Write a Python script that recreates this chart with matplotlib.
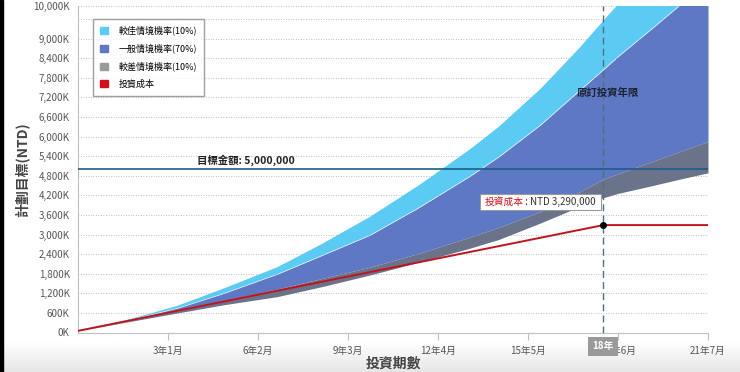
import numpy as np
import matplotlib.pyplot as plt
import matplotlib.patches as mpatches

plt.rcParams['font.family'] = ['Noto Sans CJK TC', 'DejaVu Sans']

# 資料 (單位: 千元, 月)
months = [0, 20, 41, 60, 82, 100, 120, 140, 161, 173, 190, 206, 216, 222, 235, 247, 259]
best_top = [50, 380, 820, 1350, 2000, 2700, 3540, 4500, 5600, 6300, 7450, 8700, 9550, 10050, 11100, 12100, 13100]
normal_top = [50, 360, 750, 1200, 1790, 2350, 2980, 3820, 4780, 5380, 6350, 7400, 8050, 8450, 9250, 10000, 10700]
worse_top = [50, 340, 660, 980, 1330, 1650, 2000, 2420, 2920, 3220, 3700, 4300, 4700, 4860, 5210, 5530, 5850]
worse_bot = [50, 320, 600, 850, 1100, 1400, 1760, 2150, 2580, 2850, 3350, 3850, 4130, 4260, 4480, 4690, 4890]

cost_months = [0, 216, 259]
cost_values = [50, 3290, 3290]

target = 5000
plan_month = 216

xtick_months = [37, 74, 111, 148, 185, 222, 259]
xtick_labels = ['3年1月', '6年2月', '9年3月', '12年4月', '15年5月', '18年6月', '21年7月']
ytick_values = list(range(0, 9601, 600)) + [10000]

legend_labels = ['較佳情境機率(10%)', '一般情境機率(70%)', '較差情境機率(10%)', '投資成本']

c_best = '#5ccbf4'
c_normal = '#5f78c4'
c_worse = '#6a7389'
c_cost = '#c0141c'

fig = plt.figure(figsize=(7.4, 3.72), dpi=100)

# 背景 (底部漸層 + 左側黑邊)
bg = fig.add_axes([0, 0, 1, 1], zorder=-10)
grad = np.ones((372, 1))
grad[340:, 0] = np.linspace(1.0, 0.9, 32)
bg.imshow(grad, cmap='gray', vmin=0, vmax=1, aspect='auto', extent=[0, 740, 372, 0])
bg.add_patch(mpatches.Rectangle((0, 0), 3, 372, color='black'))
bg.set_xlim(0, 740)
bg.set_ylim(372, 0)
bg.axis('off')

ax = fig.add_axes([78 / 740, 1 - 332.5 / 372, 630 / 740, 326.5 / 372])
ax.patch.set_alpha(0)

ax.fill_between(months, worse_top, normal_top, color=c_normal, lw=0, zorder=2)
ax.fill_between(months, normal_top, best_top, color=c_best, lw=0, zorder=2)
ax.fill_between(months, worse_bot, worse_top, color=c_worse, lw=0, zorder=2)

ax.axhline(target, color='#1d5b8c', lw=1.2, zorder=3)
ax.plot(cost_months, cost_values, color=c_cost, lw=1.4, zorder=4)
ax.axvline(plan_month, color='#4f6e80', lw=1.0, ls=(0, (5, 3)), zorder=5)
ax.plot([plan_month], [cost_values[1]], 'o', color='black', ms=4, zorder=6)

ax.set_xlim(0, 259)
ax.set_ylim(0, 10000)

ax.set_yticks(ytick_values)
ax.set_yticklabels(['' if v == 9600 else f'{v:,}K' for v in ytick_values])
ax.set_xticks(xtick_months)
ax.set_xticklabels(xtick_labels)
ax.tick_params(axis='y', length=0, labelsize=7, colors='#555555', pad=6)
ax.tick_params(axis='x', length=5, width=0.8, color='#c0c0c0', labelsize=7, labelcolor='#555555', pad=5)
ax.grid(axis='y', color='#aaaaaa', ls=(0, (1, 2)), lw=0.6, zorder=1)

for s in ['top', 'right']:
    ax.spines[s].set_visible(False)
ax.spines['left'].set_color('#c0c0c0')
ax.spines['bottom'].set_color('#c0c0c0')

ax.set_xlabel('投資期數', fontsize=10, fontweight='bold', color='#444444', labelpad=0)
ax.set_ylabel('計劃目標(NTD)', fontsize=10, fontweight='bold', color='#444444', labelpad=2)

# 文字標註
ax.text(49, target + 160, '目標金額: 5,000,000', fontsize=7.5, fontweight='bold', color='#222222', zorder=7)
ax.text(plan_month + 2, 7330, '原訂投資年限', fontsize=7.5, fontweight='bold', color='#1a2233',
        ha='center', va='center', zorder=7)

ax.annotate('18年', xy=(plan_month, 0), xytext=(0, -10), textcoords='offset points',
            ha='center', va='center', fontsize=7, color='white', fontweight='bold',
            bbox=dict(boxstyle='square,pad=0.45', fc='#9a9a9a', ec='none'),
            annotation_clip=False, zorder=10)

handles = [mpatches.Patch(color=c) for c in [c_best, c_normal, '#9a9a9a', '#d0101a']]
leg = ax.legend(handles, legend_labels, loc='upper left', bbox_to_anchor=(0.017, 0.975),
                fontsize=6.5, frameon=True, fancybox=False, handlelength=0.9, handleheight=0.9,
                handletextpad=1.2, labelspacing=0.9, borderpad=0.75)
leg.get_frame().set_edgecolor('#888888')
leg.get_frame().set_linewidth(1.0)
leg.set_zorder(11)

# 提示框: 兩段不同顏色的文字放在上層軸, 外框依文字範圍畫
ax_txt = fig.add_axes(ax.get_position(), zorder=20)
ax_txt.set_xlim(ax.get_xlim())
ax_txt.set_ylim(ax.get_ylim())
ax_txt.axis('off')
red = ax_txt.annotate('投資成本', xy=(167, 4000), fontsize=7, color='#d0141c', va='center')
dark = ax_txt.annotate(' : NTD 3,290,000', xy=(1, 0.5), xycoords=red, fontsize=7,
                       color='#333333', va='center')
fig.canvas.draw()
r = fig.canvas.get_renderer()
b1 = red.get_window_extent(r)
b2 = dark.get_window_extent(r)
x0, y0 = b1.x0 - 4, min(b1.y0, b2.y0) - 3
x1, y1 = b2.x1 + 5, max(b1.y1, b2.y1) + 3
inv = fig.transFigure.inverted()
(fx0, fy0), (fx1, fy1) = inv.transform([(x0, y0), (x1, y1)])
fig.patches.append(mpatches.Rectangle((fx0, fy0), fx1 - fx0, fy1 - fy0, transform=fig.transFigure,
                                      fc='white', ec='#999999', lw=0.8, zorder=8))

fig.savefig('out.png', dpi=100)
